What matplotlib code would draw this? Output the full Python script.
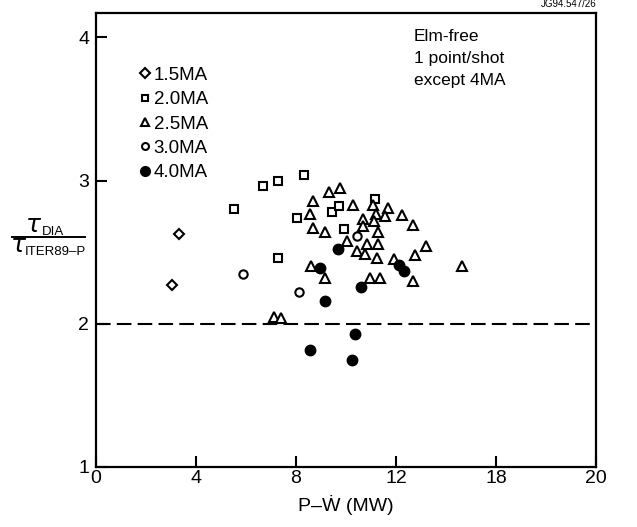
import numpy as np
import matplotlib
matplotlib.use("Agg")
from matplotlib import pyplot as plt
from matplotlib.lines import Line2D

plt.rcParams['font.family'] = ['Liberation Sans', 'DejaVu Sans']
plt.rcParams['mathtext.fontset'] = 'dejavusans'

# P - dW/dt (MW) and tau_DIA / tau_ITER89-P for each current
x_15 = [3.33, 3.03]
y_15 = [2.63, 2.27]

x_20 = [5.52, 6.69, 7.29, 8.32, 8.05, 9.45, 9.73, 9.93, 11.15, 7.29]
y_20 = [2.80, 2.96, 3.00, 3.04, 2.74, 2.78, 2.82, 2.66, 2.87, 2.46]

x_25 = [9.33, 9.76, 8.67, 8.56, 8.69, 9.16, 10.27, 11.09, 11.20, 11.69,
        11.56, 10.67, 11.12, 12.24, 12.67, 10.67, 11.29, 10.03, 10.83, 11.27,
        10.45, 10.77, 11.25, 11.92, 13.20, 12.77, 14.65, 8.60, 9.16, 10.96,
        11.36, 12.67, 7.12, 7.40]
y_25 = [2.92, 2.95, 2.86, 2.77, 2.67, 2.64, 2.83, 2.83, 2.77, 2.81,
        2.75, 2.73, 2.72, 2.76, 2.69, 2.68, 2.64, 2.58, 2.56, 2.56,
        2.51, 2.49, 2.46, 2.45, 2.54, 2.48, 2.40, 2.40, 2.32, 2.32,
        2.32, 2.30, 2.05, 2.04]

x_30 = [5.88, 8.13, 10.45]
y_30 = [2.35, 2.22, 2.61]

x_40 = [9.69, 8.96, 10.60, 9.16, 12.12, 12.32, 10.36, 8.56, 10.24]
y_40 = [2.52, 2.39, 2.26, 2.16, 2.41, 2.37, 1.93, 1.82, 1.75]

xticks = [0, 4, 8, 12, 16, 20]
xtick_labels = ["0", "4", "8", "12", "18", "20"]
yticks = [1, 2, 3, 4]
labels = ["1.5MA", "2.0MA", "2.5MA", "3.0MA", "4.0MA"]


def main():
    fig = plt.figure(figsize=(6.37, 5.27), dpi=100)
    ax = fig.add_axes([0.1507, 0.1139, 0.785, 0.8614])

    mew = 1.5
    ax.plot(x_15, y_15, 'D', ms=5.5, mfc='white', mec='black', mew=mew, ls='none')
    ax.plot(x_20, y_20, 's', ms=5.8, mfc='white', mec='black', mew=mew, ls='none')
    ax.plot(x_25, y_25, '^', ms=7.5, mfc='white', mec='black', mew=mew, ls='none')
    ax.plot(x_30, y_30, 'o', ms=6, mfc='white', mec='black', mew=mew, ls='none')
    ax.plot(x_40, y_40, 'o', ms=7.5, mfc='black', mec='black', ls='none')

    ax.axhline(2.0, color='black', lw=1.5, dashes=(7, 3))

    ax.set_xlim(0, 20)
    ax.set_ylim(1, 4.17)
    ax.set_xticks(xticks)
    ax.set_xticklabels(xtick_labels)
    ax.set_yticks(yticks)
    ax.tick_params(direction='in', length=8, width=1.5, labelsize=14)
    ax.tick_params(axis='x', pad=2)
    ax.tick_params(axis='y', pad=5)
    for s in ax.spines.values():
        s.set_linewidth(1.6)

    ax.set_xlabel("P\u2013\u1E86 (MW)", fontsize=14, labelpad=6)

    # y label drawn as a fraction
    W, H = 637.0, 527.0
    fig.text(34 / W, 1 - 232 / H, r'$\tau$', fontsize=18, ha='center', va='baseline')
    fig.text(42 / W, 1 - 235 / H, 'DIA', fontsize=9.5, ha='left', va='baseline')
    fig.add_artist(Line2D([12 / W, 85 / W], [1 - 237 / H, 1 - 237 / H], color='black',
                          lw=1.4, transform=fig.transFigure))
    fig.text(19 / W, 1 - 252 / H, r'$\tau$', fontsize=18, ha='center', va='baseline')
    fig.text(25 / W, 1 - 255 / H, 'ITER89\u2013P', fontsize=9.5, ha='left', va='baseline')

    handles = [
        Line2D([], [], marker='D', ms=5.5, mfc='white', mec='black', mew=mew, ls='none'),
        Line2D([], [], marker='s', ms=5, mfc='white', mec='black', mew=mew, ls='none'),
        Line2D([], [], marker='^', ms=6, mfc='white', mec='black', mew=mew, ls='none'),
        Line2D([], [], marker='o', ms=5, mfc='white', mec='black', mew=mew, ls='none'),
        Line2D([], [], marker='o', ms=7, mfc='black', mec='black', ls='none'),
    ]
    ax.legend(handles, labels, loc='upper left', bbox_to_anchor=(0.087, 0.882),
              frameon=False, fontsize=13.5, handlelength=0.6, handletextpad=0.15,
              labelspacing=0.39, borderpad=0, borderaxespad=0)

    ax.text(0.636, 0.965, "Elm-free\n1 point/shot\nexcept 4MA", transform=ax.transAxes,
            fontsize=12.5, ha='left', va='top', linespacing=1.6)

    fig.text(0.936, 0.982, "JG94.547/26", fontsize=7, ha='right', va='bottom')

    fig.savefig("out.png", dpi=100)


if __name__ == '__main__':
    main()
